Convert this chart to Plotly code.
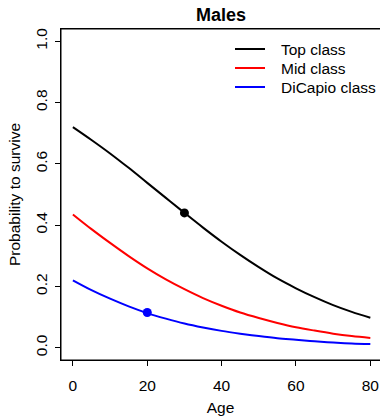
import plotly.graph_objects as go

ages = [0, 5, 10, 15, 20, 25, 30, 35, 40, 45, 50, 55, 60, 65, 70, 75, 80]
top_class = [0.720, 0.678, 0.634, 0.587, 0.538, 0.489, 0.440, 0.392, 0.346,
             0.303, 0.263, 0.226, 0.194, 0.165, 0.139, 0.117, 0.098]
mid_class = [0.435, 0.387, 0.342, 0.299, 0.259, 0.223, 0.191, 0.162, 0.137,
             0.115, 0.097, 0.081, 0.067, 0.056, 0.046, 0.038, 0.032]
dicapio_class = [0.220, 0.188, 0.160, 0.135, 0.113, 0.095, 0.079, 0.066, 0.055,
                 0.046, 0.038, 0.031, 0.026, 0.021, 0.017, 0.014, 0.012]

series_names = ["Top class", "Mid class", "DiCapio class"]
series_colors = ["black", "red", "blue"]

# Highlighted points
point_ages = [30, 20]
point_probs = [0.44, 0.115]
point_colors = ["black", "blue"]

x_ticks = [0, 20, 40, 60, 80]
y_ticks = [0.0, 0.2, 0.4, 0.6, 0.8, 1.0]

FONT = "Liberation Sans, Arial, Helvetica, sans-serif"
FS = 15.5

W, H = 380, 416
L, R, T, B = 61, 0, 29, 56
PW, PH = W - L - R, H - T - B


def px_to_paper_x(px):
    return (px - L) / PW


def px_to_paper_y(py):
    return (H - B - py) / PH


fig = go.Figure()
for name, vals, col in zip(series_names, [top_class, mid_class, dicapio_class], series_colors):
    fig.add_trace(go.Scatter(
        x=ages, y=vals, mode="lines", name=name, showlegend=False,
        line=dict(color=col, width=2, shape="spline"), hoverinfo="skip",
    ))

fig.add_trace(go.Scatter(
    x=point_ages, y=point_probs, mode="markers", showlegend=False,
    marker=dict(color=point_colors, size=9, line=dict(width=0)), hoverinfo="skip",
))

# Plot box (R box()), right side lies just beyond the visible canvas
fig.add_shape(type="rect", xref="paper", yref="paper",
              x0=0, x1=px_to_paper_x(382.5), y0=0, y1=1,
              line=dict(color="black", width=1), fillcolor="rgba(0,0,0,0)",
              layer="above")

# Legend (R-style, no box)
legend_rows_px = [49, 68, 87]
for name, col, ry in zip(series_names, series_colors, legend_rows_px):
    fig.add_shape(type="line", xref="paper", yref="paper",
                  x0=px_to_paper_x(235), x1=px_to_paper_x(265),
                  y0=px_to_paper_y(ry), y1=px_to_paper_y(ry),
                  line=dict(color=col, width=2))
    fig.add_annotation(text=name, xref="paper", yref="paper",
                       x=px_to_paper_x(279), y=px_to_paper_y(ry),
                       xanchor="left", yanchor="middle", showarrow=False,
                       font=dict(size=FS, family=FONT, color="black"))

fig.update_layout(
    width=W, height=H,
    margin=dict(l=L, r=R, t=T, b=B, pad=0, autoexpand=False),
    paper_bgcolor="white", plot_bgcolor="white",
    font=dict(family=FONT, size=FS, color="black"),
    title=dict(text="<b>Males</b>", font=dict(size=18, family=FONT, color="black"),
               x=(221 / W), xref="container", xanchor="center",
               y=1 - 15 / H, yref="container", yanchor="middle"),
    showlegend=False,
    hovermode=False,
)

fig.update_xaxes(
    range=[-3.2, 82.6], tickvals=x_ticks, ticktext=[str(v) for v in x_ticks],
    showline=True, linecolor="#000000", linewidth=1, mirror=True,
    ticks="outside", ticklen=5, tickwidth=1, tickcolor="#000000",
    showgrid=False, zeroline=False, automargin=False,
    tickfont=dict(size=FS), ticklabelstandoff=6,
    title=dict(text="Age", font=dict(size=FS), standoff=13),
)
fig.update_yaxes(
    range=[-0.04, 1.04], tickvals=y_ticks, ticktext=[f"{v:.1f}" for v in y_ticks],
    showline=True, linecolor="#000000", linewidth=1, mirror=False,
    ticks="outside", ticklen=5, tickwidth=1, tickcolor="#000000",
    showgrid=False, zeroline=False, tickangle=-90, automargin=False,
    tickfont=dict(size=FS), ticklabelstandoff=2,
    title=dict(text="Probability to survive", font=dict(size=FS), standoff=8),
)

fig.write_html("out.html", config={"displayModeBar": False, "staticPlot": True},
               post_script="document.body.style.margin='0';")
